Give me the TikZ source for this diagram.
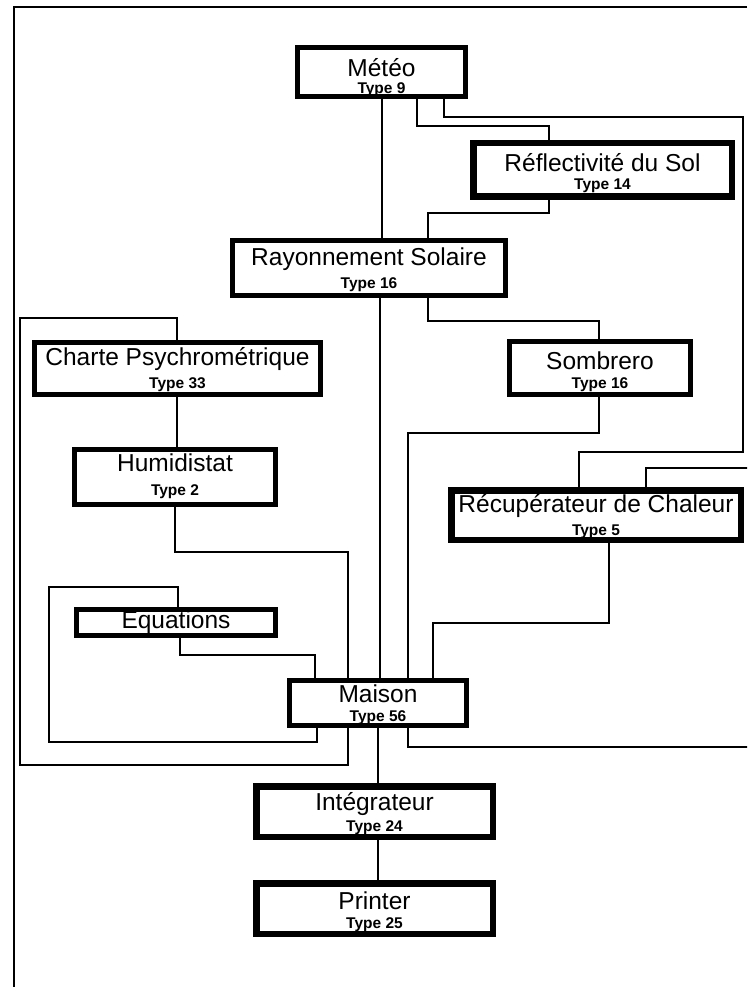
\documentclass[tikz,border=0pt]{standalone}
\usepackage{fontspec}
\setmainfont{Liberation Sans}
\newcommand\mainfnt{\fontsize{24.5}{26}\selectfont}
\newcommand\typefnt{\fontsize{15.5}{16}\selectfont\bfseries}
\tikzset{
  blk/.style={draw, line width=5pt, inner sep=0pt, align=center, font=\mainfnt, fill=white},
  heavy/.style={line width=6.5pt},
  mainlbl/.style={font=\mainfnt, inner sep=0pt, yshift=9pt},
  typelbl/.style={font=\typefnt, inner sep=0pt, yshift=-16.5pt},
  wire/.style={line width=2.2pt, line join=miter, line cap=rect},
  frameline/.style={line width=2pt},
}
\begin{document}
\begin{tikzpicture}[x=1pt,y=-1pt]
\useasboundingbox (0,0) rectangle (747,987);
\clip (0,0) rectangle (747,987);
\fill[white] (0,0) rectangle (747,987);

% outer frame
\draw[frameline] (747,7) -- (14,7) -- (14,987);

% blocks
\node[blk, minimum width=168pt, minimum height=49pt,
  label={[mainlbl, yshift=-5pt]center:Météo}, label={[typelbl, yshift=-1pt]center:Type 9}] (meteo) at (381.5,72) {};
\node[blk, heavy, minimum width=258.5pt, minimum height=53.5pt,
  label={[mainlbl, yshift=-2pt]center:Réflectivité du Sol}, label={[typelbl, yshift=1pt]center:Type 14}] (refl) at (602.5,170) {};
\node[blk, minimum width=273pt, minimum height=55pt,
  label={[mainlbl]center:Rayonnement Solaire}, label={[typelbl]center:Type 16}] (ray) at (369,268) {};
\node[blk, minimum width=286pt, minimum height=52pt,
  label={[mainlbl]center:Charte Psychrométrique}, label={[typelbl]center:Type 33}] (charte) at (177.5,368.5) {};
\node[blk, minimum width=181pt, minimum height=53pt,
  label={[mainlbl, yshift=-2pt]center:Sombrero}, label={[typelbl]center:Type 16}] (somb) at (600,368) {};
\node[blk, minimum width=201pt, minimum height=55pt,
  label={[mainlbl, yshift=5pt]center:Humidistat}, label={[typelbl, yshift=2pt]center:Type 2}] (humid) at (175,477) {};
\node[blk, heavy, minimum width=289.5pt, minimum height=49.5pt,
  label={[mainlbl]center:Récupérateur de Chaleur}, label={[typelbl]center:Type 5}] (recup) at (596,515) {};
\node[blk, minimum width=199pt, minimum height=26pt] (eq) at (176,622.5) {Equations};
\node[blk, minimum width=177pt, minimum height=45pt,
  label={[mainlbl]center:Maison}, label={[typelbl, yshift=2pt]center:Type 56}] (maison) at (378,703) {};
\node[blk, heavy, minimum width=236.5pt, minimum height=50.5pt,
  label={[mainlbl, yshift=-2pt]center:Intégrateur}, label={[typelbl]center:Type 24}] (integ) at (374.5,811.5) {};
\node[blk, heavy, minimum width=236.5pt, minimum height=50.5pt,
  label={[mainlbl, yshift=-1pt]center:Printer}, label={[typelbl]center:Type 25}] (printer) at (374.5,908.5) {};

% connectors
\draw[wire] (meteo.south -| 382,0) -- (ray.north -| 382,0);
\draw[wire] (meteo.south -| 417,0) -- (417,126) -- (549,126) -- (refl.north -| 549,0);
\draw[wire] (meteo.south -| 444,0) -- (444,117) -- (743,117) -- (743,452) -- (579,452) -- (recup.north -| 579,0);
\draw[wire] (refl.south -| 549,0) -- (549,213) -- (428,213) -- (ray.north -| 428,0);
\draw[wire] (ray.south -| 380,0) -- (maison.north -| 380,0);
\draw[wire] (ray.south -| 428,0) -- (428,321) -- (599,321) -- (somb.north -| 599,0);
\draw[wire] (somb.south -| 599,0) -- (599,433) -- (408,433) -- (maison.north -| 408,0);
\draw[wire] (recup.south -| 609,0) -- (609,623) -- (433,623) -- (maison.north -| 433,0);
\draw[wire] (maison.south -| 408,0) -- (408,747) -- (770,747) -- (770,468) -- (646,468) -- (recup.north -| 646,0);
\draw[wire] (charte.south -| 177,0) -- (humid.north -| 177,0);
\draw[wire] (humid.south -| 175,0) -- (175,552) -- (348,552) -- (maison.north -| 348,0);
\draw[wire] (eq.south -| 180,0) -- (180,655) -- (315,655) -- (maison.north -| 315,0);
\draw[wire] (maison.south -| 317,0) -- (317,742) -- (49,742) -- (49,587) -- (178,587) -- (eq.north -| 178,0);
\draw[wire] (maison.south -| 348,0) -- (348,765) -- (20,765) -- (20,318) -- (177,318) -- (charte.north -| 177,0);
\draw[wire] (maison.south -| 378,0) -- (integ.north -| 378,0);
\draw[wire] (integ.south -| 378,0) -- (printer.north -| 378,0);
\end{tikzpicture}
\end{document}
